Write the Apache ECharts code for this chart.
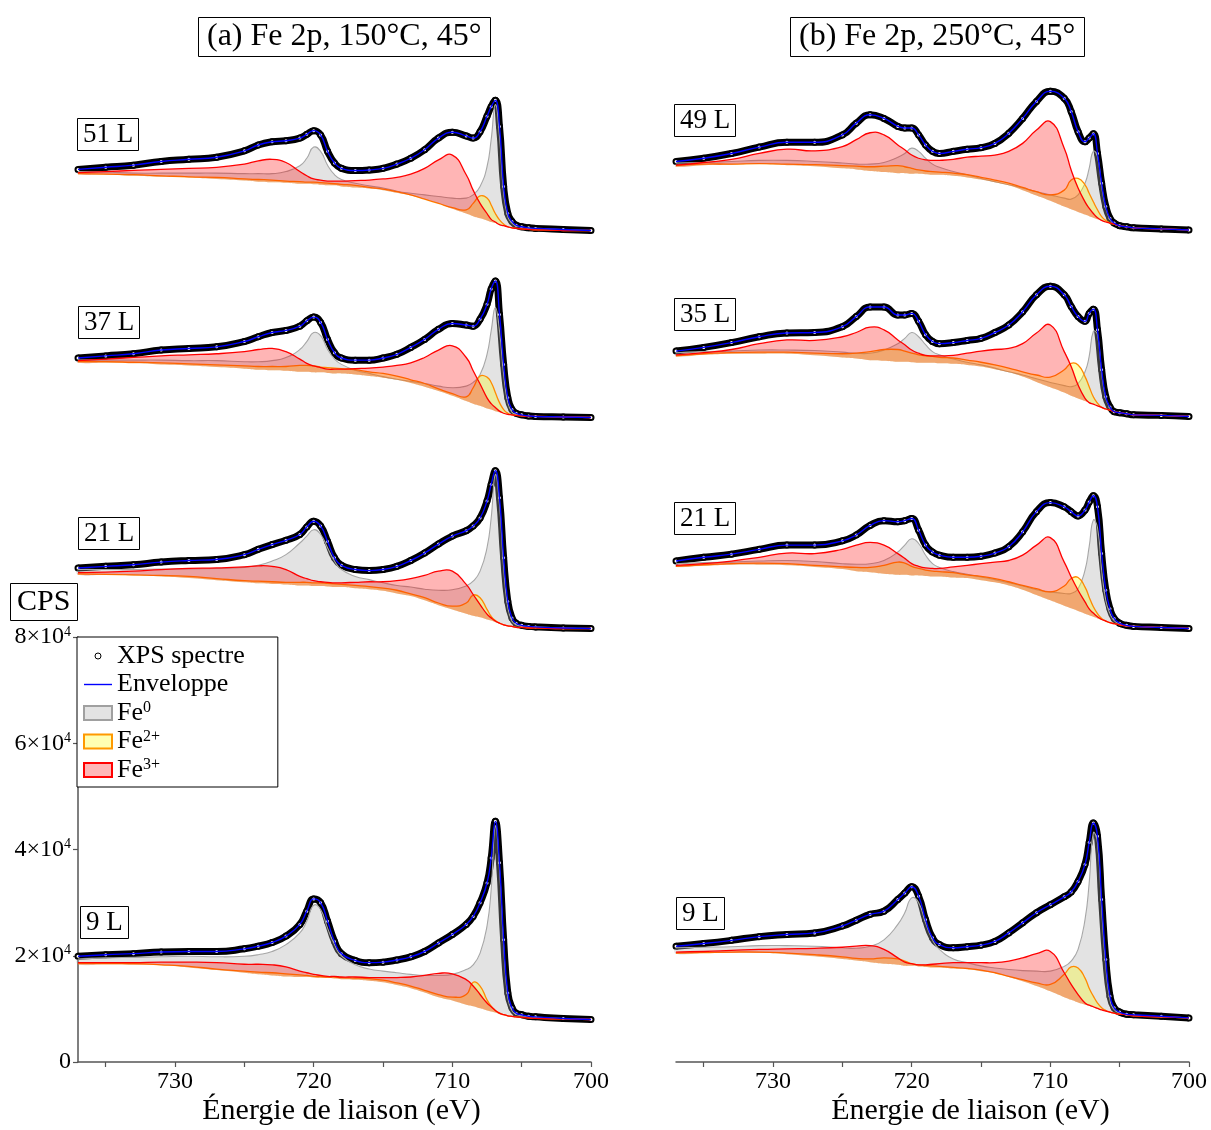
<!DOCTYPE html>
<html><head><meta charset="utf-8">
<script src="https://cdn.jsdelivr.net/npm/echarts@6/dist/echarts.min.js"></script>
<style>html,body{margin:0;padding:0;background:#fff}#c{width:1211px;height:1130px}</style>
</head><body><div id="c"></div><script>
// ---------- DATA (binding energy in eV, intensity in kCPS) ----------
const energy = [737,735,733,731,729,727,725,724,723,722,721,720.5,720,719.5,719,718.5,718,717,716,715,714,713,712,711,710,709,708.5,708,707.5,707.2,706.9,706.6,706.3,706,705.7,705.4,705,704.5,704,702,700];
const xTickValues = [700,705,710,715,720,725,730,735];
const xLabelValues = [700,710,720,730];
const yTickValues = [0,20,40,60,80];
const panelTitles = ['(a) Fe 2p, 150°C, 45°','(b) Fe 2p, 250°C, 45°'];
const spectrumLabels = ['51 L','37 L','21 L','9 L','49 L','35 L','21 L','9 L'];
const seriesNames = ['XPS spectre','Enveloppe','Fe0','Fe2+','Fe3+'];

// (a) 150°C
const a51Env=[19.5,19.9,20.3,21.0,21.4,21.8,23.0,24.1,24.7,24.9,25.4,26.1,26.8,26.0,22.9,20.7,19.7,19.3,19.4,19.7,20.5,21.6,23.2,25.4,26.5,25.8,25.4,26.6,29.5,31.3,32.5,27.6,16.3,11.2,9.7,9.0,8.7,8.5,8.4,8.2,8.0];
const a51Fe0=[19.1,19.0,18.8,18.8,18.8,18.8,18.7,18.7,18.7,19.1,20.2,21.6,23.7,22.9,20.3,18.5,17.6,16.9,16.4,16.0,15.4,15.0,14.7,14.4,14.1,14.1,14.7,16.3,20.0,25.1,31.7,25.7,15.0,10.6,9.4,8.9,8.7,8.4,8.4,8.2,8.0];
const a51Fe2=[18.7,18.6,18.5,18.3,18.1,18.0,17.7,17.6,17.5,17.3,17.2,17.1,17.1,17.0,16.9,16.8,16.7,16.5,16.1,15.8,15.3,14.7,13.9,13.1,12.3,11.9,13.1,14.5,14.1,12.8,11.2,10.0,9.2,8.7,8.5,8.4,8.3,8.2,8.1,8.0,8.0];
const a51Fe3=[18.9,19.1,19.3,19.5,19.7,19.9,20.5,21.1,21.4,20.8,19.1,18.3,17.7,17.5,17.3,17.3,17.3,17.4,17.5,17.7,18.0,18.6,19.7,21.3,22.2,18.5,15.6,13.1,11.2,10.1,9.6,9.1,8.9,8.7,8.5,8.4,8.3,8.2,8.1,8.0,8.0];
const a51Bg =[18.6,18.5,18.3,18.1,18.0,17.7,17.4,17.2,17.1,17.0,16.8,16.8,16.7,16.6,16.5,16.5,16.3,16.1,15.9,15.6,15.1,14.6,13.9,13.1,12.1,11.2,10.7,10.3,9.9,9.6,9.4,9.1,8.9,8.7,8.5,8.4,8.3,8.2,8.1,8.0,8.0];

const a37Env=[19.2,19.6,20.0,20.7,21.0,21.3,22.3,23.2,24.0,24.4,25.2,26.2,26.9,25.9,22.7,20.2,19.2,18.8,18.8,19.2,19.9,21.2,22.7,24.6,25.7,25.4,25.2,26.5,29.3,32.2,33.7,27.4,18.0,11.7,9.5,8.8,8.5,8.3,8.2,8.1,8.0];
const a37Fe0=[18.8,18.8,18.8,18.8,18.7,18.7,18.5,18.5,18.7,19.3,20.8,22.3,24.0,23.4,20.8,19.0,18.0,16.9,16.3,15.7,15.2,14.8,14.4,13.9,13.6,13.9,14.6,16.1,19.9,24.3,28.7,24.3,16.1,10.8,9.0,8.6,8.4,8.2,8.2,8.1,8.0];
const a37Fe2=[18.5,18.5,18.4,18.3,18.1,17.9,17.7,17.6,17.6,17.6,17.8,17.8,17.7,17.5,17.4,17.3,17.2,17.0,16.6,16.3,15.8,15.1,14.4,13.4,12.5,11.9,13.6,15.8,15.6,14.6,12.7,10.8,9.5,8.8,8.5,8.3,8.2,8.2,8.1,8.1,8.0];
const a37Fe3=[18.7,19.0,19.3,19.6,19.8,20.0,20.4,20.8,21.0,20.4,19.0,18.2,17.7,17.4,17.1,17.1,17.1,17.2,17.3,17.5,17.8,18.3,19.3,20.7,21.5,19.3,16.8,14.3,11.7,10.6,9.9,9.2,8.8,8.5,8.4,8.3,8.2,8.2,8.1,8.1,8.0];
const a37Bg =[18.3,18.3,18.2,18.0,17.8,17.5,17.2,17.0,16.9,16.8,16.6,16.6,16.5,16.5,16.4,16.3,16.3,16.1,15.8,15.5,15.1,14.5,13.8,13.0,12.1,11.1,10.6,10.2,9.7,9.5,9.2,9.0,8.8,8.6,8.5,8.4,8.3,8.2,8.2,8.1,8.0];

const a21Env=[19.4,19.7,20.0,20.5,20.8,21.0,21.9,22.9,23.8,24.6,25.7,27.1,28.2,27.3,24.4,21.3,19.9,19.1,18.9,19.1,19.7,20.8,22.2,23.9,25.4,26.4,27.3,28.8,32.0,35.1,37.7,32.6,21.3,13.1,10.0,9.0,8.6,8.4,8.3,8.1,8.0];
const a21Fe0=[19.1,19.1,19.1,19.2,19.2,19.3,19.5,19.9,20.7,21.9,24.1,25.4,26.6,25.7,23.2,20.7,19.1,17.8,17.2,16.6,16.1,15.8,15.4,15.2,15.3,16.0,16.9,18.8,23.2,28.8,37.0,31.3,19.4,11.9,9.4,8.7,8.5,8.4,8.3,8.1,8.0];
const a21Fe2=[18.3,18.2,18.1,18.0,17.8,17.4,17.0,16.9,16.8,16.7,16.7,16.7,16.6,16.6,16.5,16.4,16.3,16.1,15.9,15.6,15.2,14.5,13.8,12.8,12.2,12.8,14.3,13.8,11.6,10.3,9.5,9.0,8.7,8.5,8.4,8.2,8.2,8.1,8.1,8.0,8.0];
const a21Fe3=[18.5,18.6,18.8,19.1,19.3,19.4,19.6,19.8,19.7,19.1,17.8,17.4,17.0,16.8,16.7,16.6,16.6,16.7,16.8,16.8,17.0,17.4,18.0,18.8,18.8,16.3,14.4,12.5,10.7,10.0,9.4,8.9,8.7,8.5,8.4,8.2,8.2,8.1,8.1,8.0,8.0];
const a21Bg =[18.1,18.1,18.0,17.8,17.5,17.1,16.7,16.5,16.4,16.3,16.1,16.1,16.0,16.0,15.9,15.8,15.8,15.6,15.4,15.1,14.6,14.1,13.3,12.4,11.6,10.8,10.4,10.1,9.7,9.5,9.2,9.0,8.7,8.5,8.4,8.2,8.2,8.1,8.1,8.0,8.0];

const a9Env=[19.9,20.2,20.4,20.7,20.8,20.8,21.3,21.8,22.5,23.7,25.9,28.4,30.7,30.0,26.5,22.7,20.4,19.1,18.7,18.8,19.2,19.8,20.8,22.4,24.0,25.9,27.4,30.0,33.7,38.4,45.3,37.5,23.0,13.0,10.2,9.2,8.9,8.6,8.5,8.2,8.0];
const a9Fe0=[19.4,19.6,19.7,19.8,19.9,19.8,19.9,20.2,20.8,22.1,24.3,26.5,29.5,28.7,25.2,22.1,20.0,18.3,17.5,17.1,16.8,16.5,16.3,16.3,16.5,17.4,18.3,20.5,25.6,32.5,44.4,36.2,21.8,12.1,9.7,9.0,8.7,8.5,8.4,8.2,8.0];
const a9Fe2=[18.5,18.5,18.5,18.3,18.0,17.5,17.1,16.9,16.8,16.6,16.4,16.3,16.1,16.1,16.0,16.0,15.9,15.8,15.7,15.4,14.9,14.3,13.5,12.7,12.2,12.7,15.0,14.3,11.7,10.5,9.7,9.2,8.9,8.7,8.6,8.5,8.4,8.3,8.2,8.1,8.0];
const a9Fe3=[18.7,18.7,18.7,18.8,18.8,18.7,18.4,18.4,18.3,17.9,17.1,16.8,16.5,16.3,16.1,16.1,16.0,16.0,15.9,15.9,15.9,16.0,16.3,16.7,16.6,15.5,14.3,12.7,11.1,10.4,9.7,9.2,8.9,8.7,8.6,8.5,8.4,8.3,8.2,8.1,8.0];
const a9Bg =[18.4,18.4,18.3,18.2,17.8,17.3,16.8,16.5,16.3,16.1,16.0,16.0,15.9,15.8,15.8,15.7,15.6,15.5,15.3,15.0,14.5,13.9,13.1,12.2,11.6,10.8,10.5,10.1,9.7,9.5,9.3,9.0,8.9,8.7,8.6,8.5,8.4,8.3,8.2,8.1,8.0];

// (b) 250°C
const b49Env=[21.0,21.6,22.5,23.7,24.6,24.6,26.0,28.2,29.8,29.1,27.6,27.3,27.3,26.0,24.1,22.9,22.5,22.9,23.3,23.6,24.4,26.3,29.1,32.3,34.2,32.9,30.4,26.6,24.7,25.4,26.2,22.5,16.9,12.5,10.3,9.4,8.9,8.7,8.5,8.3,8.1];
const b49Fe0=[20.7,20.8,21.0,21.2,21.2,21.0,20.7,20.5,20.5,20.8,21.8,22.5,23.5,22.9,21.6,20.5,19.9,19.1,18.5,17.8,17.2,16.6,16.0,15.3,14.7,14.1,13.9,14.7,16.9,19.7,22.9,21.9,16.3,12.2,10.1,9.2,8.9,8.7,8.5,8.3,8.1];
const b49Fe2=[20.2,20.5,20.5,20.6,20.5,20.4,20.2,20.1,20.0,20.1,20.2,20.0,19.7,19.4,19.2,19.1,19.0,18.8,18.5,18.0,17.5,16.9,16.1,15.3,14.7,15.6,17.5,17.8,16.6,15.0,13.4,11.9,10.6,9.9,9.4,9.2,8.9,8.7,8.5,8.3,8.1];
const b49Fe3=[20.3,20.8,21.4,22.5,23.3,23.0,23.8,25.1,26.4,26.0,24.1,23.2,22.2,21.6,21.3,21.2,21.2,21.4,21.8,22.0,22.2,22.9,24.4,26.9,28.5,23.5,19.4,16.0,13.4,12.2,11.2,10.4,9.9,9.6,9.4,9.2,8.9,8.7,8.5,8.3,8.1];
const b49Bg =[20.0,20.3,20.4,20.5,20.3,20.1,19.7,19.5,19.2,19.0,18.8,18.8,18.7,18.7,18.6,18.5,18.5,18.3,18.0,17.6,17.1,16.5,15.6,14.6,13.6,12.5,12.0,11.5,11.0,10.7,10.4,10.1,9.9,9.6,9.4,9.2,8.9,8.7,8.5,8.3,8.1];

const b35Env=[20.5,21.2,22.1,23.2,23.9,24.0,25.1,27.0,28.8,28.8,27.3,27.3,27.6,26.1,23.6,22.3,21.9,22.1,22.5,22.9,24.0,25.4,27.9,31.1,32.7,31.1,28.9,27.0,26.1,27.6,28.4,24.5,17.0,11.9,10.0,9.1,8.9,8.7,8.5,8.4,8.2];
const b35Fe0=[20.2,20.4,20.5,20.7,20.7,20.6,20.3,20.1,20.1,20.7,21.9,22.9,24.0,23.2,21.7,20.4,19.8,19.0,18.4,17.9,17.3,16.6,16.0,15.3,14.6,14.0,13.8,14.4,16.6,19.5,24.2,23.6,16.3,11.6,9.9,9.1,8.9,8.7,8.5,8.4,8.2];
const b35Fe2=[19.6,20.0,20.2,20.3,20.3,20.1,20.0,20.1,20.4,20.8,20.8,20.5,20.1,19.8,19.6,19.5,19.3,19.2,18.8,18.4,17.9,17.3,16.6,16.0,15.6,17.0,18.2,17.9,15.7,13.8,11.9,10.7,9.9,9.6,9.4,9.1,8.9,8.7,8.5,8.4,8.2];
const b35Fe3=[19.8,20.2,20.8,21.9,22.6,22.5,23.2,24.0,25.0,24.5,22.6,21.7,20.7,20.1,19.7,19.6,19.6,19.7,20.1,20.5,20.8,21.0,21.9,23.9,25.4,20.4,17.6,14.1,11.6,10.8,10.5,10.2,9.9,9.6,9.4,9.1,8.9,8.7,8.5,8.4,8.2];
const b35Bg =[19.5,19.8,20.0,20.0,20.0,19.7,19.3,19.1,18.8,18.7,18.5,18.5,18.4,18.3,18.3,18.3,18.2,18.1,17.9,17.6,17.1,16.5,15.7,14.7,13.7,12.7,12.1,11.6,11.1,10.8,10.5,10.2,9.9,9.6,9.4,9.1,8.9,8.7,8.5,8.4,8.2];

const b21Env=[20.7,21.4,22.0,22.9,23.7,23.7,24.5,25.6,27.4,28.3,28.1,28.3,28.7,26.5,23.7,22.4,21.8,21.4,21.4,21.6,22.2,23.4,26.2,30.0,31.7,30.9,30.0,29.2,30.3,31.8,33.0,30.9,22.1,15.2,11.7,9.9,9.0,8.6,8.4,8.2,8.0];
const b21Fe0=[20.2,20.4,20.5,20.7,20.8,20.6,20.2,20.1,20.2,20.8,22.4,23.7,24.9,24.0,21.8,20.2,19.5,18.7,18.2,17.7,17.2,16.6,16.0,15.3,14.9,14.6,14.6,15.5,19.0,23.4,28.4,27.0,19.0,13.3,10.8,9.5,8.9,8.5,8.4,8.2,8.0];
const b21Fe2=[19.7,20.0,20.2,20.3,20.2,19.9,19.6,19.5,19.5,19.9,20.5,20.3,19.7,19.3,19.0,18.8,18.7,18.5,18.1,17.8,17.4,16.8,16.1,15.5,14.9,16.0,17.4,17.6,15.8,13.9,12.1,10.8,9.9,9.4,9.1,8.9,8.7,8.5,8.4,8.2,8.0];
const b21Fe3=[19.9,20.2,20.7,21.4,22.2,22.1,22.9,23.7,24.2,23.7,22.1,21.2,20.2,19.7,19.4,19.3,19.3,19.6,19.9,20.2,20.5,20.8,21.8,23.7,25.1,20.5,17.7,15.2,13.0,11.7,10.9,10.2,9.7,9.4,9.1,8.9,8.7,8.5,8.4,8.2,8.0];
const b21Bg =[19.6,19.8,20.0,20.0,19.9,19.6,19.2,18.8,18.6,18.3,18.1,18.1,18.0,18.0,17.9,17.8,17.8,17.6,17.5,17.1,16.7,16.1,15.3,14.3,13.3,12.3,11.8,11.3,10.8,10.5,10.2,9.9,9.6,9.4,9.1,8.9,8.7,8.5,8.4,8.2,8.0];

const b9Env=[21.8,22.3,22.9,23.6,24.0,24.3,25.6,26.7,27.8,28.4,30.6,31.8,33.0,31.2,26.8,23.4,22.1,21.5,21.7,22.0,22.7,24.3,26.2,28.1,29.6,31.1,32.0,34.0,37.2,41.3,45.0,42.5,30.6,19.3,12.4,10.2,9.4,9.0,8.9,8.6,8.3];
const b9Fe0=[21.5,21.6,21.7,21.9,21.9,21.8,21.5,21.4,21.8,23.0,25.9,28.1,30.9,30.0,26.2,23.0,21.2,19.4,18.7,18.1,17.7,17.4,17.2,17.1,17.1,18.0,19.0,21.2,26.8,33.7,43.1,41.3,28.7,18.0,11.7,9.9,9.2,8.9,8.8,8.5,8.3];
const b9Fe2=[20.5,20.6,20.7,20.7,20.5,20.2,19.8,19.5,19.4,19.6,19.4,19.0,18.5,18.3,18.2,18.1,18.0,17.8,17.6,17.3,16.8,16.1,15.5,14.9,14.6,16.5,17.9,17.7,15.8,13.9,12.4,11.1,10.2,9.7,9.4,9.2,9.0,8.9,8.7,8.5,8.3];
const b9Fe3=[20.7,20.8,21.0,21.2,21.3,21.4,21.6,21.8,21.9,21.2,19.6,18.8,18.5,18.3,18.3,18.4,18.5,18.7,18.7,18.7,18.7,19.0,19.6,20.4,20.8,16.8,14.6,12.7,11.1,10.7,10.4,10.1,9.8,9.6,9.4,9.2,9.0,8.9,8.7,8.5,8.3];
const b9Bg =[20.4,20.5,20.5,20.5,20.3,19.9,19.4,19.1,18.8,18.5,18.3,18.1,18.1,18.0,17.9,17.8,17.8,17.6,17.5,17.1,16.7,16.0,15.2,14.3,13.3,12.2,11.7,11.2,10.8,10.6,10.3,10.0,9.8,9.6,9.4,9.2,9.0,8.9,8.7,8.5,8.3];

// order = grid index (column a top->bottom, then column b)
const spectra = [
  {env:a51Env, fe0:a51Fe0, fe2:a51Fe2, fe3:a51Fe3, bg:a51Bg},
  {env:a37Env, fe0:a37Fe0, fe2:a37Fe2, fe3:a37Fe3, bg:a37Bg},
  {env:a21Env, fe0:a21Fe0, fe2:a21Fe2, fe3:a21Fe3, bg:a21Bg},
  {env:a9Env,  fe0:a9Fe0,  fe2:a9Fe2,  fe3:a9Fe3,  bg:a9Bg},
  {env:b49Env, fe0:b49Fe0, fe2:b49Fe2, fe3:b49Fe3, bg:b49Bg},
  {env:b35Env, fe0:b35Fe0, fe2:b35Fe2, fe3:b35Fe3, bg:b35Bg},
  {env:b21Env, fe0:b21Fe0, fe2:b21Fe2, fe3:b21Fe3, bg:b21Bg},
  {env:b9Env,  fe0:b9Fe0,  fe2:b9Fe2,  fe3:b9Fe3,  bg:b9Bg}
];

// ---------- LAYOUT / STYLE ----------
const SERIF = '"Liberation Serif", "Times New Roman", serif';
const colLeft = [78, 676];
const rowBottom = [273, 460, 671, 1062];
const rowMax = [40, 40, 40, 80];
const PX_PER_K = 425 / 80;
const labelPos = [[77,118],[78,306],[78,517],[80,906],[674,104],[674,298],[674,502],[676,897]];
const SMOOTH = 0.5;

const grids = [], xAxes = [], yAxes = [], series = [];
for (let g = 0; g < 8; g++) {
  const col = Math.floor(g / 4), row = g % 4;
  const h = rowMax[row] * PX_PER_K;
  grids.push({left: colLeft[col], width: 513, top: rowBottom[row] - h, height: h});
  const bottomRow = row === 3;
  xAxes.push({
    gridIndex: g, type: 'value', min: 700, max: 737, inverse: true, show: bottomRow,
    name: bottomRow ? 'Énergie de liaison (eV)' : '', nameLocation: 'middle', nameGap: 34,
    nameTextStyle: {fontFamily: SERIF, fontSize: 30, color: '#000', padding: col === 0 ? [0,0,0,14] : [0,0,0,76]},
    axisLine: {onZero: false, lineStyle: {color: '#555', width: 1.5}},
    axisTick: {show: true, length: 5, customValues: xTickValues, lineStyle: {color: '#555', width: 1.2}},
    axisLabel: {customValues: xLabelValues, fontFamily: SERIF, fontSize: 24, color: '#000', margin: 8},
    splitLine: {show: false}
  });
  yAxes.push({
    gridIndex: g, type: 'value', min: 0, max: rowMax[row], interval: 20, show: g === 3,
    axisLine: {show: true, lineStyle: {color: '#555', width: 1.5}},
    axisTick: {show: true, length: 5, lineStyle: {color: '#555', width: 1.2}},
    axisLabel: {
      fontFamily: SERIF, fontSize: 24, color: '#000', margin: 7,
      formatter: v => (yTickValues.indexOf(v) < 0) ? '' : (v === 0 ? '0' : (v / 10) + '×10{s|4}'),
      rich: {s: {fontFamily: SERIF, fontSize: 14, color: '#000', verticalAlign: 'top'}}
    },
    splitLine: {show: false}
  });

  const s = spectra[g];
  const pts = arr => energy.map((e, i) => [e, arr[i]]);
  const common = {xAxisIndex: g, yAxisIndex: g, emphasis: {disabled: true}, animation: false};

  // measured spectrum (open circles, dense -> thick dark band)
  series.push(Object.assign({
    type: 'line', name: seriesNames[0], data: pts(s.env), smooth: SMOOTH,
    symbol: 'emptyCircle', symbolSize: 5, showSymbol: true,
    itemStyle: {color: '#000', borderColor: '#000', borderWidth: 1},
    lineStyle: {color: '#000', width: 7}, z: 2
  }, common));

  // fitted components: filled between Shirley background and component curve
  const comps = [
    [seriesNames[2], 'fe0', '#a6a6a6', 'rgba(170,170,170,0.33)', 1.1],
    [seriesNames[3], 'fe2', '#ff8a00', 'rgba(255,255,0,0.30)', 1.3],
    [seriesNames[4], 'fe3', '#ff0000', 'rgba(255,0,0,0.29)', 1.3]
  ];
  comps.forEach(([name, key, lc, fc, lw], ci) => {
    const line = s[key], bg = s.bg;
    series.push(Object.assign({
      type: 'custom', name: name, z: 3 + ci * 0.1,
      data: energy.map((e, i) => [e, line[i], bg[i]]),
      encode: {x: 0, y: [1, 2]},
      renderItem: (params, api) => {
        if (params.dataIndex !== 0) return null;
        const top = energy.map((e, i) => api.coord([e, Math.max(line[i], bg[i])]));
        const bot = energy.map((e, i) => api.coord([e, bg[i]]));
        return {type: 'group', children: [
          {type: 'polygon', shape: {points: top.concat(bot.slice().reverse()), smooth: SMOOTH},
           style: {fill: fc, stroke: null}},
          {type: 'polyline', shape: {points: top, smooth: SMOOTH},
           style: {fill: null, stroke: lc, lineWidth: lw}}
        ]};
      }
    }, common));
  });

  series.push(Object.assign({
    type: 'line', name: seriesNames[1], data: pts(s.env), symbol: 'none', smooth: SMOOTH,
    lineStyle: {color: '#0000ff', width: 1.4}, itemStyle: {color: '#0000ff'}, z: 4
  }, common));
}

const titles = [
  {text: panelTitles[0], left: 198, top: 17},
  {text: panelTitles[1], left: 790, top: 17}
].map(t => Object.assign(t, {
  padding: [4, 9], borderColor: '#000', borderWidth: 1, backgroundColor: '#fff',
  textStyle: {fontFamily: SERIF, fontSize: 32, fontWeight: 'normal', color: '#000'}
}));
titles.push({text: 'CPS', left: 10, top: 583, padding: [4, 7], borderColor: '#000', borderWidth: 1,
  textStyle: {fontFamily: SERIF, fontSize: 30, fontWeight: 'normal', color: '#000'}});
spectrumLabels.forEach((t, i) => titles.push({
  text: t, left: labelPos[i][0], top: labelPos[i][1], padding: [3, 6],
  borderColor: '#000', borderWidth: 1, backgroundColor: '#fff',
  textStyle: {fontFamily: SERIF, fontSize: 27, fontWeight: 'normal', color: '#000'}
}));

const legendText = {'XPS spectre': 'XPS spectre', 'Enveloppe': 'Enveloppe', 'Fe0': 'Fe{s|0}', 'Fe2+': 'Fe{s|2+}', 'Fe3+': 'Fe{s|3+}'};

const option = {
  animation: false,
  backgroundColor: '#fff',
  title: titles,
  grid: grids,
  xAxis: xAxes,
  yAxis: yAxes,
  legend: {
    orient: 'vertical', left: 77, top: 637, padding: [6, 33, 4, 6], itemGap: 2.5,
    itemWidth: 28, itemHeight: 14, backgroundColor: '#fff', borderColor: '#000', borderWidth: 1,
    selectedMode: false,
    textStyle: {fontFamily: SERIF, fontSize: 26, color: '#000',
      rich: {s: {fontFamily: SERIF, fontSize: 16, color: '#000', verticalAlign: 'top'}}},
    formatter: n => legendText[n],
    data: [
      {name: seriesNames[0], icon: 'path://M0,0M28,14M11,7a3,3 0 1,0 6,0a3,3 0 1,0 -6,0Z', itemStyle: {color: '#fff', borderColor: '#000', borderWidth: 1}},
      {name: seriesNames[1], icon: 'path://M0,0M28,14M0,6.3L28,6.3L28,7.7L0,7.7Z', itemStyle: {color: '#0000ff', borderWidth: 0}},
      {name: seriesNames[2], icon: 'rect', itemStyle: {color: '#e3e3e3', borderColor: '#a0a0a0', borderWidth: 2}},
      {name: seriesNames[3], icon: 'rect', itemStyle: {color: '#ffffb3', borderColor: '#ff9900', borderWidth: 2}},
      {name: seriesNames[4], icon: 'rect', itemStyle: {color: '#ffb6b6', borderColor: '#ff0000', borderWidth: 2}}
    ]
  },
  series: series
};

const chart = echarts.init(document.getElementById('c'), null, {renderer: 'canvas'});
chart.setOption(option);
</script></body></html>
